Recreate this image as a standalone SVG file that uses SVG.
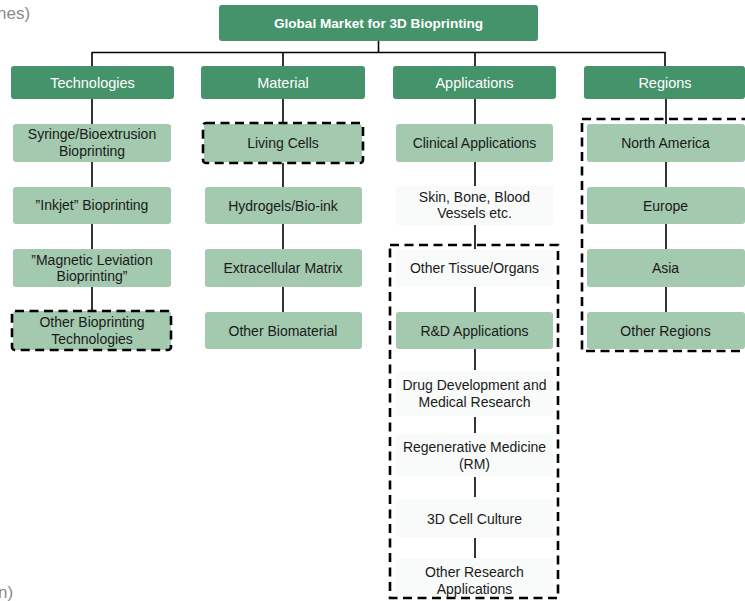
<svg xmlns="http://www.w3.org/2000/svg" width="745" height="601" viewBox="0 0 745 601">
<style>
text{font-family:"Liberation Sans",Arial,sans-serif;text-anchor:middle;}
.hd{fill:#45936A;}
.lt{fill:#A3C9AF;}
.wt{fill:#F8FBF9;}
.ht{fill:#ffffff;font-size:14.5px;}
.t{fill:#1a1a1a;font-size:14px;}
.dash{fill:none;stroke:#000;stroke-width:2.6;stroke-dasharray:9 5.5;}
.conn{stroke:#000;stroke-width:1.6;fill:none;}
.grey{fill:#8a8a8a;font-size:17px;text-anchor:start;}
</style>
<rect width="745" height="601" fill="#ffffff"/>
<text class="grey" x="-3" y="19">nes)</text>
<text class="grey" x="-2" y="598">n)</text>

<g id="connectors">
<path class="conn" d="M378.5,40 V52.5 M92,52.5 H665.5 M92,52 V66 M283,52 V66 M475,52 V66 M665,52 V66"/>
<path class="conn" d="M92,99 V124 M92,162 V187 M92,224 V249 M92,287 V311"/>
<path class="conn" d="M283,99 V123 M283,163 V187 M283,224 V249 M283,287 V312"/>
<path class="conn" d="M475,99 V124 M475,162 V186 M475,225 V249 M475,287 V312 M475,349 V370 M475,417 V433 M475,477 V497 M475,538 V558"/>
<path class="conn" d="M666,99 V124 M666,162 V187 M666,224 V249 M666,287 V312"/>
</g>

<g id="root">
<rect class="hd" x="219" y="5" width="319" height="36" rx="3"/>
<text x="378.5" y="27.5" style="fill:#fff;font-size:13.6px;font-weight:bold;">Global Market for 3D Bioprinting</text>
</g>

<g id="technologies">
<rect class="hd" x="11" y="66" width="163" height="33" rx="3"/>
<text class="ht" x="92.5" y="88">Technologies</text>
</g>
<g id="material">
<rect class="hd" x="201" y="66" width="164" height="33" rx="3"/>
<text class="ht" x="283" y="88">Material</text>
</g>
<g id="applications">
<rect class="hd" x="393" y="66" width="163" height="33" rx="3"/>
<text class="ht" x="474.5" y="88">Applications</text>
</g>
<g id="regions">
<rect class="hd" x="584" y="66" width="161" height="33" rx="3"/>
<text class="ht" x="665" y="88">Regions</text>
</g>

<g id="syringe">
<rect class="lt" x="13" y="124" width="158" height="38" rx="3"/>
<text class="t" x="92" y="139">Syringe/Bioextrusion</text>
<text class="t" x="92" y="156">Bioprinting</text>
</g>
<g id="inkjet">
<rect class="lt" x="13" y="187" width="158" height="37" rx="3"/>
<text class="t" x="92" y="210">”Inkjet” Bioprinting</text>
</g>
<g id="magnetic">
<rect class="lt" x="13" y="249" width="158" height="38" rx="3"/>
<text class="t" x="92" y="264.5">”Magnetic Leviation</text>
<text class="t" x="92" y="281">Bioprinting”</text>
</g>
<g id="other-bioprinting">
<rect class="lt" x="13" y="311" width="158" height="39" rx="3"/>
<rect class="dash" x="12" y="311" width="159" height="39" rx="3"/>
<text class="t" x="92" y="327">Other Bioprinting</text>
<text class="t" x="92" y="344">Technologies</text>
</g>

<g id="living-cells">
<rect class="lt" x="204" y="124" width="158" height="38" rx="3"/>
<rect class="dash" x="203" y="123" width="160" height="40" rx="3"/>
<text class="t" x="283" y="148">Living Cells</text>
</g>
<g id="hydrogels">
<rect class="lt" x="205" y="187" width="157" height="37" rx="3"/>
<text class="t" x="283" y="210.5">Hydrogels/Bio-ink</text>
</g>
<g id="ecm">
<rect class="lt" x="205" y="249" width="157" height="38" rx="3"/>
<text class="t" x="283" y="273">Extracellular Matrix</text>
</g>
<g id="other-biomaterial">
<rect class="lt" x="205" y="312" width="157" height="37" rx="3"/>
<text class="t" x="283" y="335.5">Other Biomaterial</text>
</g>

<g id="clinical">
<rect class="lt" x="396" y="124" width="157" height="38" rx="3"/>
<text class="t" x="474.5" y="148">Clinical Applications</text>
</g>
<g id="skin">
<rect class="wt" x="396" y="186" width="157" height="39" rx="3"/>
<text class="t" x="474.5" y="201.5">Skin, Bone, Blood</text>
<text class="t" x="474.5" y="218">Vessels etc.</text>
</g>
<g id="other-tissue">
<rect class="wt" x="396" y="249" width="157" height="38" rx="3"/>
<text class="t" x="474.5" y="272.5">Other Tissue/Organs</text>
</g>
<g id="rnd">
<rect class="lt" x="396" y="312" width="157" height="37" rx="3"/>
<text class="t" x="474.5" y="335.5">R&amp;D Applications</text>
</g>
<g id="drug">
<rect class="wt" x="396" y="371" width="157" height="45" rx="3"/>
<text class="t" x="474.5" y="390">Drug Development and</text>
<text class="t" x="474.5" y="406.5">Medical Research</text>
</g>
<g id="regenerative">
<rect class="wt" x="396" y="434" width="157" height="42" rx="3"/>
<text class="t" x="474.5" y="452">Regenerative Medicine</text>
<text class="t" x="474.5" y="469">(RM)</text>
</g>
<g id="cell-culture">
<rect class="wt" x="396" y="499" width="157" height="38" rx="3"/>
<text class="t" x="474.5" y="524">3D Cell Culture</text>
</g>
<g id="other-research">
<rect class="wt" x="396" y="559" width="157" height="38" rx="3"/>
<text class="t" x="474.5" y="576.5">Other Research</text>
<text class="t" x="474.5" y="593.5">Applications</text>
</g>
<g id="applications-group">
<rect class="dash" x="390" y="245" width="168" height="353"/>
</g>

<g id="north-america">
<rect class="lt" x="587" y="124" width="158" height="38" rx="3"/>
<text class="t" x="665.5" y="148">North America</text>
</g>
<g id="europe">
<rect class="lt" x="587" y="187" width="158" height="37" rx="3"/>
<text class="t" x="665.5" y="210.5">Europe</text>
</g>
<g id="asia">
<rect class="lt" x="587" y="249" width="158" height="38" rx="3"/>
<text class="t" x="665.5" y="273">Asia</text>
</g>
<g id="other-regions">
<rect class="lt" x="587" y="312" width="158" height="37" rx="3"/>
<text class="t" x="665.5" y="335.5">Other Regions</text>
</g>
<g id="regions-group">
<rect class="dash" x="582" y="119" width="166" height="232"/>
</g>
</svg>
